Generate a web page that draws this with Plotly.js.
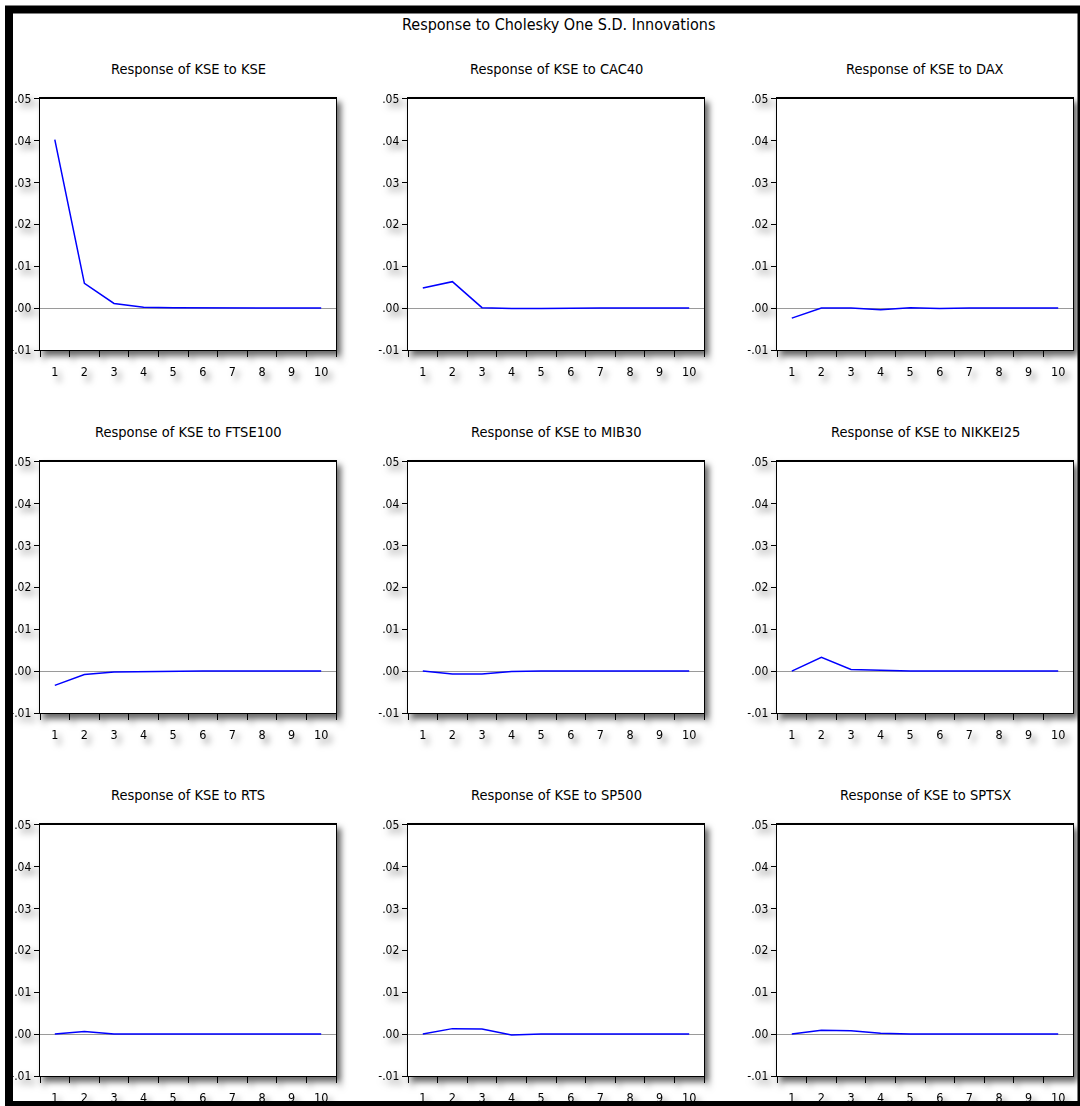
<!DOCTYPE html>
<html>
<head>
<meta charset="utf-8">
<script src="https://cdn.plot.ly/plotly-3.0.1.min.js"></script>
<style>
  html, body { margin: 0; padding: 0; background: #ffffff; }
  #chart { width: 1080px; height: 1106px; }
  #chart .main-svg:first-child { filter: drop-shadow(4px 5px 3px rgba(0,0,0,0.6)); }
</style>
</head>
<body>
<div id="chart"></div>
<script>
// ---------- data ----------
const mainTitle = 'Response to Cholesky One S.D. Innovations';
const periods = ['1', '2', '3', '4', '5', '6', '7', '8', '9', '10'];
const panelTitles = [
  'Response of KSE to KSE', 'Response of KSE to CAC40', 'Response of KSE to DAX',
  'Response of KSE to FTSE100', 'Response of KSE to MIB30', 'Response of KSE to NIKKEI25',
  'Response of KSE to RTS', 'Response of KSE to SP500', 'Response of KSE to SPTSX'
];
const respKSE     = [0.0402, 0.0059, 0.0011, 0.0002, 0.00005, 0, 0, 0, 0, 0];
const respCAC40   = [0.0048, 0.0063, 0.0001, -0.0001, -0.0001, 0, 0, 0, 0, 0];
const respDAX     = [-0.0024, 0.0000, 0.0000, -0.0004, 0.0001, -0.0001, 0.0000, 0.0000, 0.0000, 0.0000];
const respFTSE100 = [-0.0034, -0.0008, -0.0002, -0.0001, 0, 0, 0, 0, 0, 0];
const respMIB30   = [0.0000, -0.0007, -0.0007, -0.0001, 0, 0, 0, 0, 0, 0];
const respNIKKEI  = [0.0000, 0.0033, 0.0004, 0.0002, 0, 0, 0, 0, 0, 0];
const respRTS     = [0.0000, 0.0006, 0.0000, 0, 0, 0, 0, 0, 0, 0];
const respSP500   = [0.0000, 0.0013, 0.0012, -0.0002, 0, 0, 0, 0, 0, 0];
const respSPTSX   = [0.0000, 0.0009, 0.0008, 0.0002, 0, 0, 0, 0, 0, 0];
const yTickVals = [-0.01, 0.00, 0.01, 0.02, 0.03, 0.04, 0.05];
const yTickText = ['-.01', '.00', '.01', '.02', '.03', '.04', '.05'];

const series = [respKSE, respCAC40, respDAX, respFTSE100, respMIB30, respNIKKEI, respRTS, respSP500, respSPTSX];

// ---------- layout geometry (pixels) ----------
const W = 1080, H = 1106;
const colX = [[40, 336], [408, 704], [777, 1073]];
const rowY = [[98.5, 350], [461.5, 713], [824.5, 1076]];
const px = v => v / W;
const py = v => 1 - v / H;

const FONT = '"DejaVu Sans Condensed", "Liberation Sans Narrow", "Arial Narrow", "Liberation Sans", Arial, sans-serif';

const data = [];
const layout = {
  width: W, height: H,
  margin: { l: 0, r: 0, t: 0, b: 0 },
  paper_bgcolor: 'rgba(0,0,0,0)',
  plot_bgcolor: '#ffffff',
  showlegend: false,
  font: { family: FONT, color: '#000000', size: 12 },
  annotations: [],
  shapes: []
};

series.forEach((vals, i) => {
  const r = Math.floor(i / 3), c = i % 3;
  const n = i + 1;
  const xa = n === 1 ? 'x' : 'x' + n;
  const ya = n === 1 ? 'y' : 'y' + n;
  data.push({
    type: 'scatter', mode: 'lines',
    x: periods, y: vals,
    xaxis: xa, yaxis: ya,
    line: { color: '#0000ff', width: 1.5 },
    hoverinfo: 'skip'
  });
  const xKey = n === 1 ? 'xaxis' : 'xaxis' + n;
  const yKey = n === 1 ? 'yaxis' : 'yaxis' + n;
  layout[xKey] = {
    domain: [px(colX[c][0]), px(colX[c][1])],
    anchor: ya,
    type: 'category',
    categoryorder: 'array', categoryarray: periods,
    range: [-0.5, 9.5],
    tickson: 'boundaries',
    ticks: 'outside', ticklen: 6, tickwidth: 1, tickcolor: '#000000',
    showline: true, linecolor: '#000000', linewidth: 1.3, mirror: true,
    showgrid: false, zeroline: false,
    ticklabelstandoff: 10,
    tickfont: { family: FONT, size: 12.5, color: '#000000' },
    fixedrange: true
  };
  layout[yKey] = {
    domain: [py(rowY[r][1]), py(rowY[r][0])],
    anchor: xa,
    range: [-0.01, 0.05],
    tickmode: 'array', tickvals: yTickVals, ticktext: yTickText,
    ticks: 'outside', ticklen: 5, tickwidth: 1, tickcolor: '#000000',
    showline: true, linecolor: '#000000', linewidth: 1.3, mirror: true,
    showgrid: false,
    zeroline: true, zerolinecolor: '#9a9a9a', zerolinewidth: 1,
    ticklabelstandoff: 0,
    tickfont: { family: FONT, size: 12, color: '#000000' },
    fixedrange: true
  };
  layout.annotations.push({
    text: panelTitles[i],
    xref: 'paper', yref: 'paper',
    x: px((colX[c][0] + colX[c][1]) / 2), y: py(rowY[r][0] - 30),
    xanchor: 'center', yanchor: 'middle',
    showarrow: false,
    font: { family: FONT, size: 14.5, color: '#000000' }
  });
});

layout.annotations.push({
  text: mainTitle,
  xref: 'paper', yref: 'paper',
  x: px(558), y: py(25),
  xanchor: 'center', yanchor: 'middle',
  showarrow: false,
  font: { family: FONT, size: 16, color: '#000000' }
});

// outer black frame
layout.shapes.push({
  type: 'rect', xref: 'paper', yref: 'paper',
  x0: px(9), x1: px(1081.5), y0: py(1105), y1: py(9.5),
  line: { color: '#000000', width: 8 },
  fillcolor: 'rgba(0,0,0,0)',
  layer: 'above'
});

Plotly.newPlot('chart', data, layout, { staticPlot: true, displayModeBar: false });
</script>
</body>
</html>
